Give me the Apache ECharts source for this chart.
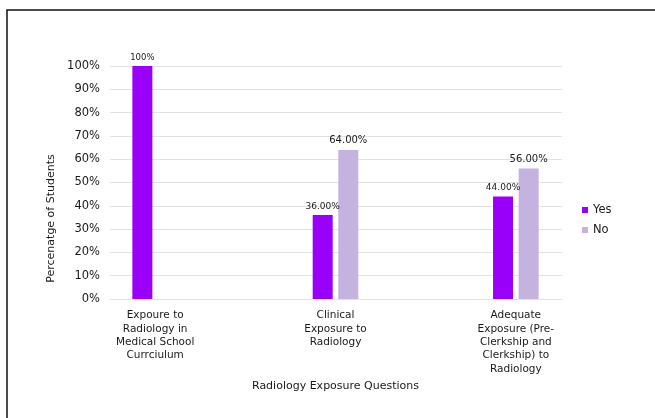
<!DOCTYPE html>
<html>
<head>
<meta charset="utf-8">
<script src="https://cdn.jsdelivr.net/npm/echarts@6/dist/echarts.min.js"></script>
<style>
  html, body { margin: 0; padding: 0; background: #fff; }
  #chart { width: 655px; height: 418px; }
</style>
</head>
<body>
<div id="chart"></div>
<script>
// data
var categories = [
  'Expoure to\nRadiology in\nMedical School\nCurrciulum',
  'Clinical\nExposure to\nRadiology',
  'Adequate\nExposure (Pre-\nClerkship and\nClerkship) to\nRadiology'
];
var seriesNames = ['Yes', 'No'];
var yesValues = [100, 36, 44];
var noValues = [null, 64, 56];
var yTicks = [0, 10, 20, 30, 40, 50, 60, 70, 80, 90, 100];

var colors = ['#9900fa', '#c3b3de'];
var font = 'DejaVu Sans';

var dom = document.getElementById('chart');
var myChart = echarts.init(dom, null, { renderer: 'canvas' });

function fmtLabel(p) {
  var v = p.value;
  if (v === 100) return '100%';
  return v.toFixed(2) + '%';
}

// first bar label is printed smaller in the original
var yesData = yesValues.map(function (v) {
  if (v === 100) {
    return { value: v, label: { fontSize: 8.5 } };
  }
  return v;
});

var option = {
  backgroundColor: '#fff',
  color: colors,
  textStyle: { fontFamily: font },
  animation: false,
  graphic: [
    {
      type: 'rect',
      shape: { x: 7, y: 10, width: 700, height: 500 },
      style: { fill: 'none', stroke: '#111', lineWidth: 1.5 },
      silent: true,
      z: 100
    }
  ],
  legend: {
    orient: 'vertical',
    left: 577,
    top: 199,
    itemWidth: 6,
    itemHeight: 6,
    itemGap: 8,
    icon: 'rect',
    data: seriesNames,
    textStyle: { fontFamily: font, fontSize: 11.5, color: '#1a1a1a' }
  },
  grid: [
    { left: 65, right: 49, top: 66, bottom: 119 },
    { left: 110, right: 93, top: 66, bottom: 119 }
  ],
  xAxis: [
    {
      type: 'category',
      gridIndex: 0,
      data: categories,
      axisLine: { show: false },
      axisTick: { show: false },
      axisLabel: {
        interval: 0,
        fontFamily: font,
        fontSize: 10.5,
        lineHeight: 13.3,
        color: '#1a1a1a',
        margin: 10
      },
      name: 'Radiology Exposure Questions',
      nameLocation: 'middle',
      nameGap: 80,
      nameTextStyle: { fontFamily: font, fontSize: 11, color: '#1a1a1a' }
    },
    {
      type: 'value',
      gridIndex: 1,
      show: false
    }
  ],
  yAxis: [
    {
      type: 'value',
      gridIndex: 0,
      min: 0,
      max: 100,
      show: false
    },
    {
      type: 'value',
      gridIndex: 1,
      min: 0,
      max: 100,
      interval: 10,
      axisLine: { show: false },
      axisTick: { show: false },
      splitLine: { lineStyle: { color: '#e2e2e2', width: 1 } },
      axisLabel: {
        formatter: '{value}%',
        fontFamily: font,
        fontSize: 11.5,
        color: '#1a1a1a',
        margin: 10,
        customValues: yTicks
      },
      name: 'Percenatge of Students',
      nameLocation: 'middle',
      nameGap: 46,
      nameTextStyle: {
        fontFamily: font,
        fontSize: 11,
        color: '#1a1a1a',
        padding: [0, 72, 0, 0]
      }
    }
  ],
  series: [
    {
      name: seriesNames[0],
      type: 'bar',
      xAxisIndex: 0,
      yAxisIndex: 0,
      barWidth: 20,
      barGap: '28%',
      data: yesData,
      label: {
        show: true,
        position: 'top',
        distance: 4,
        formatter: fmtLabel,
        fontFamily: font,
        fontSize: 9,
        color: '#1a1a1a'
      }
    },
    {
      name: seriesNames[1],
      type: 'bar',
      xAxisIndex: 0,
      yAxisIndex: 0,
      barWidth: 20,
      data: noValues,
      label: {
        show: true,
        position: 'top',
        distance: 4,
        formatter: fmtLabel,
        fontFamily: font,
        fontSize: 10,
        color: '#1a1a1a'
      }
    }
  ]
};

myChart.setOption(option);
window.addEventListener('resize', myChart.resize);
</script>
</body>
</html>
